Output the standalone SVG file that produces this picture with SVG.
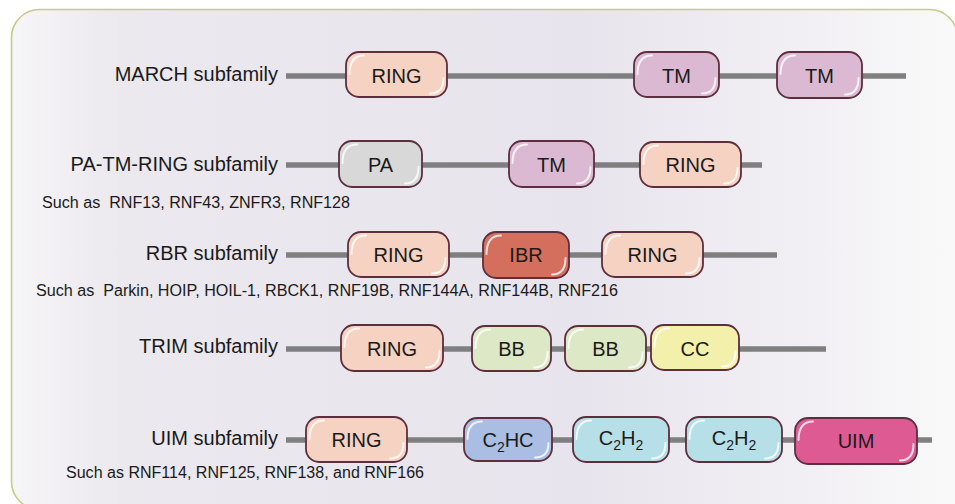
<svg xmlns="http://www.w3.org/2000/svg" width="955" height="504" viewBox="0 0 955 504">
  <defs>
    <linearGradient id="panelBg" x1="0" y1="0" x2="1" y2="0">
      <stop offset="0" stop-color="#f6f5f7"/>
      <stop offset="0.12" stop-color="#ebe8ee"/>
      <stop offset="0.6" stop-color="#e8e4ed"/>
      <stop offset="0.85" stop-color="#f2f0f4"/>
      <stop offset="1" stop-color="#fafafa"/>
    </linearGradient>
    <style>
      .panel { fill: url(#panelBg); stroke: #c6ca8c; stroke-width: 1.6; }
      .chain { stroke: #7f7f7f; stroke-width: 5.5; fill: none; }
      .dom { stroke: #5c2e3e; stroke-width: 1.8; }
      .shine { fill: none; stroke: #ffffff; stroke-width: 2; stroke-linecap: round; opacity: 0.8; }
      .lbl { font-family: "Liberation Sans", Arial, sans-serif; font-size: 20px; fill: #1a1a1a; text-anchor: end; }
      .dt { font-family: "Liberation Sans", Arial, sans-serif; font-size: 20px; fill: #1a1a1a; text-anchor: middle; }
      .ex { font-family: "Liberation Sans", Arial, sans-serif; font-size: 16px; fill: #1a1a1a; white-space: pre; }
      .ring { fill: #f5d2c2; }
      .tm { fill: #dbb9d2; }
      .pa { fill: #d8d8d8; }
      .ibr { fill: #d46f5e; }
      .bb { fill: #dde8c7; }
      .cc { fill: #f2f0aa; }
      .c2hc { fill: #a9bee2; }
      .c2h2 { fill: #b6dfe8; }
      .uim { fill: #de5a92; }
    </style>
  </defs>

  <!-- background panel; its right and lower edges run past the canvas -->
  <rect x="0" y="0" width="955" height="504" fill="#ffffff"/>
  <path class="panel" d="M957.5 520 L957.5 37.5 A28 28 0 0 0 929.5 9.5 L39.5 9.5 A28 28 0 0 0 11.5 37.5 L11.5 481.5 A28 28 0 0 0 39.5 509.5 L965 509.5"/>

  <!-- protein backbones -->
  <g id="connectors">
    <line class="chain" x1="286" y1="76" x2="906" y2="76"/>
    <line class="chain" x1="286" y1="165" x2="762" y2="165"/>
    <line class="chain" x1="286" y1="255" x2="777" y2="255"/>
    <line class="chain" x1="286" y1="349" x2="826" y2="349"/>
    <line class="chain" x1="286" y1="440" x2="932" y2="440"/>
  </g>

  <!-- subfamily labels -->
  <g id="labels">
    <text class="lbl" x="278" y="81">MARCH subfamily</text>
    <text class="lbl" x="278" y="171">PA-TM-RING subfamily</text>
    <text class="lbl" x="278" y="260">RBR subfamily</text>
    <text class="lbl" x="278" y="353">TRIM subfamily</text>
    <text class="lbl" x="278" y="445">UIM subfamily</text>
    <text class="ex" x="42" y="208" textLength="308" lengthAdjust="spacingAndGlyphs">Such as  RNF13, RNF43, ZNFR3, RNF128</text>
    <text class="ex" x="36" y="296" textLength="582" lengthAdjust="spacingAndGlyphs">Such as  Parkin, HOIP, HOIL-1, RBCK1, RNF19B, RNF144A, RNF144B, RNF216</text>
    <text class="ex" x="66" y="478" textLength="358" lengthAdjust="spacingAndGlyphs">Such as RNF114, RNF125, RNF138, and RNF166</text>
  </g>

  <!-- MARCH subfamily -->
  <g id="march-ring">
    <rect class="dom ring" x="346" y="52" width="101" height="45" rx="13"/>
    <path class="shine" d="M349.5 74 Q349.5 55.5 364 55.5"/>
    <path class="shine" d="M443.5 78 Q443.5 93.5 430 93.5"/>
    <text class="dt" x="396.5" y="83">RING</text>
  </g>
  <g id="march-tm1">
    <rect class="dom tm" x="634" y="52" width="85" height="45" rx="13"/>
    <path class="shine" d="M637.5 74 Q637.5 55.5 652 55.5"/>
    <path class="shine" d="M715.5 78 Q715.5 93.5 702 93.5"/>
    <text class="dt" x="676.5" y="83">TM</text>
  </g>
  <g id="march-tm2">
    <rect class="dom tm" x="777" y="52" width="85" height="46" rx="13"/>
    <path class="shine" d="M780.5 74 Q780.5 55.5 795 55.5"/>
    <path class="shine" d="M858.5 78 Q858.5 94.5 845 94.5"/>
    <text class="dt" x="819.5" y="83">TM</text>
  </g>

  <!-- PA-TM-RING subfamily -->
  <g id="patm-pa">
    <rect class="dom pa" x="339" y="141" width="83" height="46" rx="13"/>
    <path class="shine" d="M342.5 163 Q342.5 144.5 357 144.5"/>
    <path class="shine" d="M418.5 167 Q418.5 183.5 405 183.5"/>
    <text class="dt" x="380.5" y="172">PA</text>
  </g>
  <g id="patm-tm">
    <rect class="dom tm" x="509" y="141" width="85" height="46" rx="13"/>
    <path class="shine" d="M512.5 163 Q512.5 144.5 527 144.5"/>
    <path class="shine" d="M590.5 167 Q590.5 183.5 577 183.5"/>
    <text class="dt" x="551.5" y="172">TM</text>
  </g>
  <g id="patm-ring">
    <rect class="dom ring" x="640" y="142" width="101" height="45" rx="13"/>
    <path class="shine" d="M643.5 164 Q643.5 145.5 658 145.5"/>
    <path class="shine" d="M737.5 168 Q737.5 183.5 724 183.5"/>
    <text class="dt" x="690.5" y="172">RING</text>
  </g>

  <!-- RBR subfamily -->
  <g id="rbr-ring1">
    <rect class="dom ring" x="348" y="232" width="101" height="45" rx="13"/>
    <path class="shine" d="M351.5 254 Q351.5 235.5 366 235.5"/>
    <path class="shine" d="M445.5 258 Q445.5 273.5 432 273.5"/>
    <text class="dt" x="398.5" y="262">RING</text>
  </g>
  <g id="rbr-ibr">
    <rect class="dom ibr" x="483" y="232" width="86" height="46" rx="13"/>
    <path class="shine" d="M486.5 254 Q486.5 235.5 501 235.5"/>
    <path class="shine" d="M565.5 258 Q565.5 274.5 552 274.5"/>
    <text class="dt" x="526" y="262">IBR</text>
  </g>
  <g id="rbr-ring2">
    <rect class="dom ring" x="602" y="232" width="101" height="45" rx="13"/>
    <path class="shine" d="M605.5 254 Q605.5 235.5 620 235.5"/>
    <path class="shine" d="M699.5 258 Q699.5 273.5 686 273.5"/>
    <text class="dt" x="652.5" y="262">RING</text>
  </g>

  <!-- TRIM subfamily -->
  <g id="trim-ring">
    <rect class="dom ring" x="341" y="325" width="102" height="46" rx="13"/>
    <path class="shine" d="M344.5 347 Q344.5 328.5 359 328.5"/>
    <path class="shine" d="M439.5 351 Q439.5 367.5 426 367.5"/>
    <text class="dt" x="392" y="356">RING</text>
  </g>
  <g id="trim-bb1">
    <rect class="dom bb" x="472" y="326" width="79" height="45" rx="13"/>
    <path class="shine" d="M475.5 348 Q475.5 329.5 490 329.5"/>
    <path class="shine" d="M547.5 352 Q547.5 367.5 534 367.5"/>
    <text class="dt" x="511.5" y="356">BB</text>
  </g>
  <g id="trim-bb2">
    <rect class="dom bb" x="565" y="326" width="81" height="45" rx="13"/>
    <path class="shine" d="M568.5 348 Q568.5 329.5 583 329.5"/>
    <path class="shine" d="M642.5 352 Q642.5 367.5 629 367.5"/>
    <text class="dt" x="605.5" y="356">BB</text>
  </g>
  <g id="trim-cc">
    <rect class="dom cc" x="651" y="325" width="88" height="45" rx="13"/>
    <path class="shine" d="M654.5 347 Q654.5 328.5 669 328.5"/>
    <path class="shine" d="M735.5 351 Q735.5 366.5 722 366.5"/>
    <text class="dt" x="695" y="356">CC</text>
  </g>

  <!-- UIM subfamily -->
  <g id="uim-ring">
    <rect class="dom ring" x="306" y="417" width="101" height="45" rx="13"/>
    <path class="shine" d="M309.5 439 Q309.5 420.5 324 420.5"/>
    <path class="shine" d="M403.5 443 Q403.5 458.5 390 458.5"/>
    <text class="dt" x="356.5" y="447">RING</text>
  </g>
  <g id="uim-c2hc">
    <rect class="dom c2hc" x="464" y="418" width="88" height="43" rx="13"/>
    <path class="shine" d="M467.5 439 Q467.5 421.5 482 421.5"/>
    <path class="shine" d="M548.5 443 Q548.5 457.5 535 457.5"/>
    <text class="dt" x="508" y="447">C<tspan font-size="14" dy="5">2</tspan><tspan dy="-5">HC</tspan></text>
  </g>
  <g id="uim-c2h2a">
    <rect class="dom c2h2" x="573" y="417" width="96" height="45" rx="13"/>
    <path class="shine" d="M576.5 439 Q576.5 420.5 591 420.5"/>
    <path class="shine" d="M665.5 443 Q665.5 458.5 652 458.5"/>
    <text class="dt" x="621" y="445">C<tspan font-size="14" dy="5">2</tspan><tspan dy="-5">H</tspan><tspan font-size="14" dy="5">2</tspan></text>
  </g>
  <g id="uim-c2h2b">
    <rect class="dom c2h2" x="686" y="417" width="96" height="45" rx="13"/>
    <path class="shine" d="M689.5 439 Q689.5 420.5 704 420.5"/>
    <path class="shine" d="M778.5 443 Q778.5 458.5 765 458.5"/>
    <text class="dt" x="734" y="445">C<tspan font-size="14" dy="5">2</tspan><tspan dy="-5">H</tspan><tspan font-size="14" dy="5">2</tspan></text>
  </g>
  <g id="uim-uim">
    <rect class="dom uim" x="795" y="418" width="122" height="46" rx="13"/>
    <path class="shine" d="M798.5 440 Q798.5 421.5 813 421.5"/>
    <path class="shine" d="M913.5 444 Q913.5 460.5 900 460.5"/>
    <text class="dt" x="856" y="448">UIM</text>
  </g>
</svg>
